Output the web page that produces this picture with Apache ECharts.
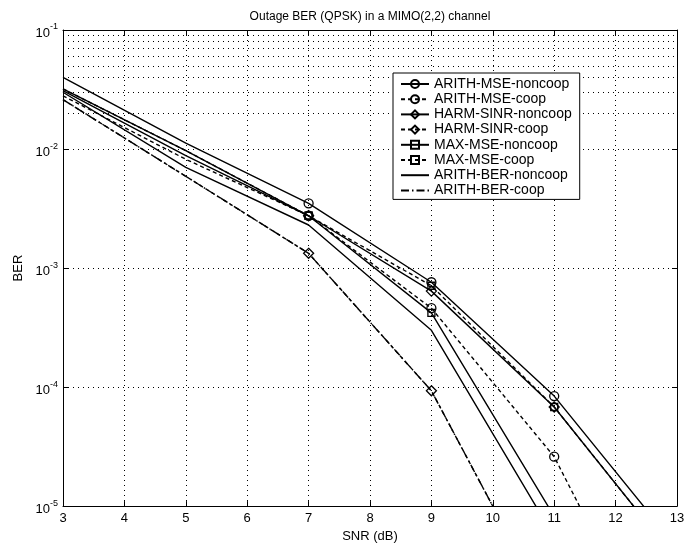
<!DOCTYPE html>
<html><head><meta charset="utf-8">
<script src="https://cdn.jsdelivr.net/npm/echarts@6/dist/echarts.min.js"></script>
<style>html,body{margin:0;padding:0;background:#fff}#c{width:691px;height:548px}</style>
</head><body><div id="c"></div>
<script>
// SNR (dB) sample points
const snr = [3, 5, 7, 9, 11, 13];
const markerSnr = [7, 9, 11];
// BER values (log scale)
const arithMseNoncoop = [0.040, 0.0112, 3.5e-3, 7.6e-4, 8.4e-5, 4.5e-6];
const arithMseCoop    = [0.028, 0.0082, 2.75e-3, 4.6e-4, 2.6e-5, 2.5e-7];
const harmSinrNoncoop = [0.032, 0.0097, 2.75e-3, 6.4e-4, 6.8e-5, 3.5e-6];
const harmSinrCoop    = [0.026, 0.0059, 1.33e-3, 9.3e-5, 1.07e-6, 1e-8];
const maxMseNoncoop   = [0.031, 0.0088, 2.75e-3, 4.2e-4, 8.2e-6, 1e-7];
const maxMseCoop      = [0.032, 0.0097, 2.75e-3, 7.1e-4, 6.8e-5, 3.5e-6];
const arithBerNoncoop = [0.030, 0.0070, 2.3e-3, 3.0e-4, 5.5e-6, 1e-7];
const arithBerCoop    = [0.026, 0.0059, 1.33e-3, 9.3e-5, 1.07e-6, 1e-8];
// axis ticks
const xTicks = [3, 4, 5, 6, 7, 8, 9, 10, 11, 12, 13];
const yTicks = [1e-5, 1e-4, 1e-3, 1e-2, 1e-1];
const yTickExp = ['-5', '-4', '-3', '-2', '-1'];
const titleText = 'Outage BER (QPSK) in a MIMO(2,2) channel';

const minorVals = [];
for (let e = -5; e < -1; e++) for (let m = 2; m <= 9; m++) minorVals.push(m * Math.pow(10, e));

const FONT = '"Liberation Sans", Arial, sans-serif';
const GRID = {left: 63, right: 14, top: 30, bottom: 38};
const DOT = [1, 4];
const SOLID = 'solid', COOP = [4, 3], DASHDOT = [8, 3, 1.5, 3];

function mk(name, vals, symbol, size, lineType, z) {
  const hidden = !symbol;
  return {
    name: name, type: 'line', z: z,
    symbol: symbol || 'none', symbolSize: size || 8,
    showSymbol: true, clip: true, animation: false,
    emphasis: {disabled: true},
    data: snr.map((x, i) => ({
      value: [x, vals[i]],
      symbol: (symbol && markerSnr.indexOf(x) >= 0) ? symbol : 'none'
    })),
    lineStyle: {color: '#000', width: 1.4, type: lineType},
    itemStyle: hidden
      ? {color: 'rgba(255,255,255,0)', borderColor: 'rgba(255,255,255,0)', borderWidth: 0}
      : {color: 'rgba(255,255,255,0)', borderColor: '#000', borderWidth: 1.3}
  };
}

const series = [
  mk('ARITH-MSE-noncoop', arithMseNoncoop, 'circle', 9, SOLID, 5),
  mk('ARITH-MSE-coop', arithMseCoop, 'circle', 9, COOP, 3),
  mk('HARM-SINR-noncoop', harmSinrNoncoop, 'diamond', 10, SOLID, 5),
  mk('HARM-SINR-coop', harmSinrCoop, 'diamond', 10, COOP, 3),
  mk('MAX-MSE-noncoop', maxMseNoncoop, 'rect', 7, SOLID, 5),
  mk('MAX-MSE-coop', maxMseCoop, 'rect', 7, COOP, 3),
  mk('ARITH-BER-noncoop', arithBerNoncoop, null, 8, SOLID, 5),
  mk('ARITH-BER-coop', arithBerCoop, null, 8, DASHDOT, 4),
  {
    name: 'minorgrid', type: 'line', data: [], z: 1, silent: true,
    markLine: {
      silent: true, symbol: 'none', animation: false,
      label: {show: false},
      lineStyle: {type: DOT, color: '#000', width: 1},
      emphasis: {disabled: true},
      data: minorVals.map(v => ({yAxis: v}))
    }
  }
];

const chart = echarts.init(document.getElementById('c'), null, {renderer: 'canvas'});
chart.setOption({
  animation: false,
  backgroundColor: '#fff',
  textStyle: {fontFamily: FONT},
  grid: GRID,
  graphic: [{
    type: 'text', x: 370, y: 17,
    style: {text: titleText, x: 0, y: 0, align: 'center', verticalAlign: 'middle',
            font: '12px ' + FONT, fill: '#000'}
  }],
  legend: {
    orient: 'vertical', left: 393, top: 73,
    data: series.slice(0, 8).map(s => s.name),
    itemWidth: 28, itemHeight: 10, itemGap: 1.2,
    padding: [4, 8, 2, 7],
    backgroundColor: '#fff', borderColor: '#000', borderWidth: 1,
    textStyle: {fontSize: 14, color: '#000', lineHeight: 14, fontFamily: FONT},
    selectedMode: false, z: 10
  },
  xAxis: [{
    type: 'value', min: 3, max: 13, interval: 1,
    name: 'SNR (dB)', nameLocation: 'middle', nameGap: 22,
    nameTextStyle: {fontSize: 13, color: '#000'},
    axisLine: {lineStyle: {color: '#000', width: 1}},
    axisTick: {inside: true, length: 5, lineStyle: {color: '#000'}},
    axisLabel: {fontSize: 13, color: '#000', margin: 6,
      customValues: xTicks, formatter: v => String(v)},
    splitLine: {show: true, lineStyle: {type: DOT, color: '#000', width: 1}}
  }, {
    type: 'value', position: 'top', min: 3, max: 13, interval: 1,
    axisLine: {show: true, lineStyle: {color: '#000', width: 1}},
    axisTick: {inside: true, length: 5, lineStyle: {color: '#000'}},
    axisLabel: {show: false}, splitLine: {show: false}
  }],
  yAxis: [{
    type: 'log', logBase: 10, min: 1e-5, max: 1e-1,
    name: 'BER', nameLocation: 'middle', nameGap: 29, nameRotate: 90,
    nameTextStyle: {fontSize: 13, color: '#000'},
    axisLine: {show: true, lineStyle: {color: '#000', width: 1}},
    axisTick: {inside: true, length: 5, lineStyle: {color: '#000'}},
    axisLabel: {
      margin: 5, color: '#000',
      formatter: function (v) {
        const e = Math.round(Math.log10(v));
        const idx = yTicks.findIndex(t => Math.abs(Math.log10(t) - e) < 1e-6);
        return '{b|10}{s|' + (idx >= 0 ? yTickExp[idx] : e) + '}';
      },
      rich: {b: {fontSize: 13, color: '#000', padding: [6, 0, 0, 0]}, s: {fontSize: 9, color: '#000', padding: [0, 0, 6, 0]}}
    },
    splitLine: {show: true, lineStyle: {type: DOT, color: '#000', width: 1}}
  }, {
    type: 'log', logBase: 10, min: 1e-5, max: 1e-1, position: 'right',
    axisLine: {show: true, lineStyle: {color: '#000', width: 1}},
    axisTick: {inside: true, length: 5, lineStyle: {color: '#000'}},
    axisLabel: {show: false}, splitLine: {show: false}
  }],
  series: series
});
</script>
</body></html>
